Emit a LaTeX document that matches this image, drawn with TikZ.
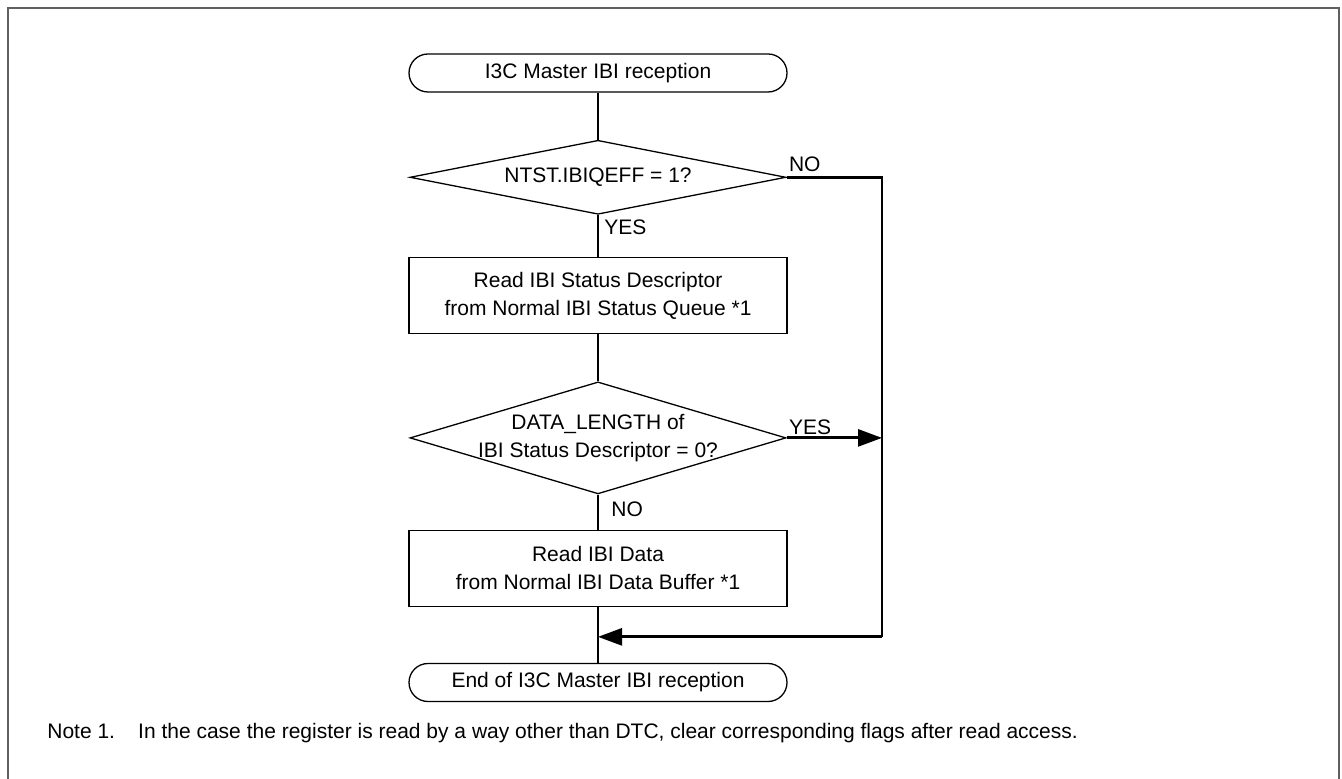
\documentclass[tikz,border=0pt]{standalone}
\usepackage{fontspec}
\setmainfont{Liberation Sans}
\usetikzlibrary{positioning,shapes.geometric,arrows.meta}

\tikzset{
  term/.style={draw,rounded corners=9.5pt,minimum width=189pt,minimum height=19pt,inner sep=0pt,line width=0.65pt},
  proc/.style={draw,minimum width=189pt,minimum height=38pt,align=center,inner sep=0pt,line width=0.65pt},
  decide/.style={draw,diamond,minimum width=188pt,minimum height=#1,inner sep=0pt,line width=0.65pt},
  decide/.default=37pt,
  flow/.style={line width=0.8pt},
  branch/.style={line width=1.4pt},
  bigtip/.style={-{Triangle[length=12pt,width=8.5pt]}},
  lbl/.style={inner sep=0pt}
}

\begin{document}
\begin{tikzpicture}[x=0.5pt,y=-0.5pt,every node/.style={font=\fontsize{10.5}{14}\selectfont}]
\useasboundingbox (0,0) rectangle (1342,779);
\draw[gray!75!black,line width=1pt] (7.5,779) -- (7.5,8) -- (1339,8) -- (1339,779);

    \node[term] (start) at (598,73) {I3C Master IBI reception};
    \node[decide,below=23.5pt of start,label=center:{NTST.IBIQEFF = 1?}] (qeff) {};
    \node[proc,below=21pt of qeff] (rdstat) {Read IBI Status Descriptor\\from Normal IBI Status Queue *1};
    \node[decide=56pt,below=23.5pt of rdstat,label={[align=center]center:{DATA\_LENGTH of\\IBI Status Descriptor = 0?}}] (dlen) {};
    \node[proc,below=17.5pt of dlen] (rddata) {Read IBI Data\\from Normal IBI Data Buffer *1};
    \node[term,below=28pt of rddata] (stop) {End of I3C Master IBI reception};
    \coordinate (rx) at (882,0);
    \coordinate[below=15pt of rddata] (join);

    % branch labels
    \node[lbl,anchor=south west,xshift=1pt,yshift=2.5pt] (nolbl) at (qeff.east) {NO};
    \node[lbl,anchor=north west,xshift=3pt,yshift=-2pt] (yeslbl) at (qeff.south) {YES};
    \node[lbl,anchor=south west,xshift=1pt,yshift=1.5pt] (yeslbltwo) at (dlen.east) {YES};
    \node[lbl,anchor=north west,xshift=6.5pt,yshift=-3.5pt] (nolbltwo) at (dlen.south) {NO};

    \draw[flow] (start) -- (qeff) -- (rdstat) -- (dlen) -- (rddata) -- (stop);
    \draw[branch] (qeff.east) -- (qeff.east -| rx) -- (join -| rx);
    \draw[branch,bigtip] (join -| rx) -- (join);
    \draw[branch,bigtip] (dlen.east) -- (dlen.east -| rx);

    \node[lbl,anchor=base west] (note) at (47,738) {Note 1.\hspace{1.1em}In the case the register is read by a way other than DTC, clear corresponding flags after read access.};
\end{tikzpicture}
\end{document}
